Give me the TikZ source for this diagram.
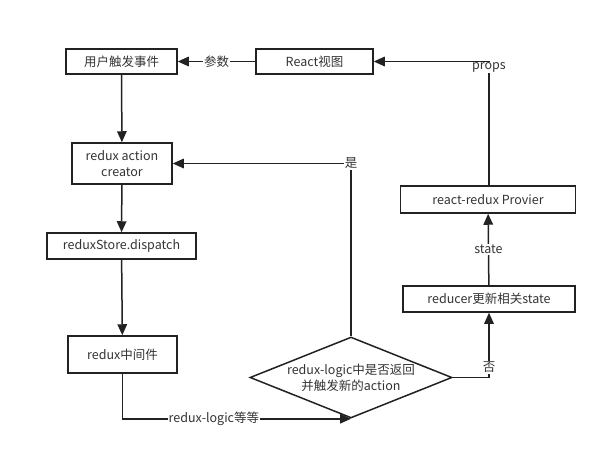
\documentclass[tikz,border=0pt]{standalone}
\usepackage{fontspec}
\setmainfont{Noto Sans CJK SC}
\usetikzlibrary{arrows.meta,shapes.geometric}
\definecolor{ln}{HTML}{222222}
\definecolor{tx}{HTML}{333333}
\begin{document}
\begin{tikzpicture}[x=1pt,y=-1pt,
  box/.style={draw=ln,line width=1.5pt,inner sep=0pt,text=tx,font=\fontsize{12.5}{16}\selectfont,align=center},
  conn/.style={draw=ln,line width=1.5pt,-{Triangle[length=11pt,width=9.5pt]}},
  lbl/.style={fill=white,inner sep=1pt,text=tx,font=\fontsize{12.5}{14}\selectfont}]
\useasboundingbox (0,0) rectangle (608,450);
\node[box,minimum width=111pt,minimum height=25pt] (ev) at (121.5,61.5) {用户触发事件};
\node[box,minimum width=117pt,minimum height=25pt] (rv) at (314.5,61.5) {React视图};
\node[box,minimum width=100pt,minimum height=41pt] (ac) at (122,163.5) {redux action\\creator};
\node[box,minimum width=149pt,minimum height=26pt] (ds) at (121.5,246) {reduxStore.dispatch};
\node[box,minimum width=109pt,minimum height=37pt] (mw) at (122.5,354.5) {redux中间件};
\node[draw=ln,line width=1.5pt,diamond,minimum width=202pt,minimum height=81pt,inner sep=0pt] (dm) at (351,377.5) {};
\node[text=tx,font=\fontsize{12.5}{16}\selectfont,align=center] (dmt) at (dm.center) {redux-logic中是否返回\\并触发新的action};
\node[box,minimum width=172pt,minimum height=26pt] (rd) at (489,299) {reducer更新相关state};
\node[box,minimum width=175pt,minimum height=27pt] (pv) at (488,199.5) {react-redux Provier};

\draw[conn] (rv) -- node[lbl]{参数} (ev);
\draw[conn] (pv.north -| 489,0) |- node[lbl,pos=0.5,yshift=-6pt]{props} (rv.east);
\draw[conn] (ev) -- (ac);
\draw[conn] (ac) -- (ds);
\draw[conn] (ds) -- (mw);
\draw[conn] (mw.south) |- node[lbl,pos=0.7]{redux-logic等等} (dm.south);
\draw[conn] (dm.north) |- node[lbl,pos=0.5]{是} (ac.east);
\draw[conn] (dm.east) -| node[lbl,pos=0.58]{否} (rd.south);
\draw[conn] (rd) -- node[lbl]{state} (pv);
\end{tikzpicture}
\end{document}
